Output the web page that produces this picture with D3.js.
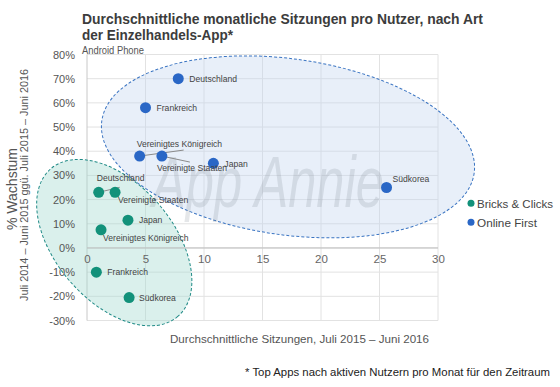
<!DOCTYPE html>
<html><head><meta charset="utf-8">
<script src="https://cdn.jsdelivr.net/npm/d3@7"></script>
<style>
html,body{margin:0;padding:0;background:#fff;}
svg{display:block;font-family:"Liberation Sans",Arial,sans-serif;}
</style></head>
<body><svg id="c" width="560" height="387"></svg>
<script>
// ---- data ----
const seriesNames = ["Bricks & Clicks", "Online First"];
const onlineCountries = ["Deutschland","Frankreich","Vereinigtes Königreich","Vereinigte Staaten","Japan","Südkorea"];
const onlineSessions  = [7.8, 5.0, 4.5, 6.4, 10.8, 25.6];
const onlineGrowth    = [0.70, 0.58, 0.38, 0.38, 0.35, 0.25];
const bricksCountries = ["Deutschland","Vereinigte Staaten","Japan","Vereinigtes Königreich","Frankreich","Südkorea"];
const bricksSessions  = [1.0, 2.4, 3.5, 1.2, 0.8, 3.6];
const bricksGrowth    = [0.23, 0.23, 0.115, 0.075, -0.10, -0.205];
const xTicks = [0,5,10,15,20,25,30];
const yTicks = [-0.3,-0.2,-0.1,0,0.1,0.2,0.3,0.4,0.5,0.6,0.7,0.8];

// ---- layout ----
const svg = d3.select("#c");
const x = d3.scaleLinear().domain([0,30]).range([87,438]);
const y = d3.scaleLinear().domain([-0.3,0.8]).range([320.5,54.5]);
const colors = {"Bricks & Clicks":"#12917a","Online First":"#2a67c6"};
const font = '"Liberation Sans",Arial,sans-serif';

// grid
const g = svg.append("g");
g.selectAll(".hg").data(yTicks).join("line")
  .attr("x1",x(0)).attr("x2",x(30)).attr("y1",d=>y(d)).attr("y2",d=>y(d))
  .attr("stroke","#e2e2e2").attr("stroke-width",1);
g.selectAll(".vg").data(xTicks).join("line")
  .attr("x1",d=>x(d)).attr("x2",d=>x(d)).attr("y1",y(0.8)).attr("y2",y(-0.3))
  .attr("stroke",d=>d===0?"#c8c8c8":"#e2e2e2").attr("stroke-width",1);

// ellipses (annotation)
const ell = svg.append("g");
function ellipse(cxv, cyv, rx, ry, rot, fill, fillOp, stroke){
  ell.append("ellipse")
    .attr("cx",0).attr("cy",0).attr("rx",rx).attr("ry",ry)
    .attr("transform",`translate(${x(cxv)},${y(cyv)}) rotate(${rot})`)
    .attr("fill",fill).attr("fill-opacity",fillOp)
    .attr("stroke",stroke).attr("stroke-width",1).attr("stroke-dasharray","3,2");
}
ellipse(17.18, 0.418, 188, 88, 8, "#c2d5f0", 0.38, "#3a74c2");
ellipse(2.33, 0.022, 97.4, 58.8, 49.3, "#a6dcd2", 0.42, "#1f8a86");

// watermark
svg.append("text").attr("x",268).attr("y",207).attr("text-anchor","middle")
  .attr("font-family",font).attr("font-style","italic").attr("font-size",72)
  .attr("fill","#7d8590").attr("fill-opacity",0.2)
  .attr("textLength",232).attr("lengthAdjust","spacingAndGlyphs")
  .text("App Annie");

// zero line
svg.append("line").attr("x1",x(0)).attr("x2",x(30)).attr("y1",y(0)).attr("y2",y(0))
  .attr("stroke","#bdbdbd").attr("stroke-width",1);

// axes labels via d3 axes
const yAxis = d3.axisLeft(y).tickValues(yTicks).tickSize(0).tickPadding(0)
  .tickFormat(d=>Math.round(d*100)+"%");
const ya = svg.append("g").attr("transform","translate(75,0)").call(yAxis);
ya.select(".domain").remove();
ya.selectAll("text").attr("font-family",font).attr("font-size",11).attr("fill","#555");

const xAxis = d3.axisBottom(x).tickValues(xTicks).tickSize(0).tickPadding(0).tickFormat(d3.format("d"));
const xa = svg.append("g").attr("transform",`translate(0,${y(0)+7})`).call(xAxis);
xa.select(".domain").remove();
xa.selectAll("text").attr("font-family",font).attr("font-size",11.5).attr("fill","#666");

// series
const online = onlineCountries.map((c,i)=>({c, s:onlineSessions[i], g:onlineGrowth[i]}));
const bricks = bricksCountries.map((c,i)=>({c, s:bricksSessions[i], g:bricksGrowth[i]}));

// label offsets (layout)
const onlineLab = {"Deutschland":[11,3.5],"Frankreich":[11,3.5],"Vereinigtes Königreich":[-3,-9],
  "Vereinigte Staaten":[-5,14.5],"Japan":[11,3.5],"Südkorea":[6,-6]};
const bricksLab = {"Deutschland":[-2,-11],"Vereinigte Staaten":[3,11],"Japan":[11,3],
  "Vereinigtes Königreich":[2,11],"Frankreich":[11,2.5],"Südkorea":[10,3]};
const onlineLead = {"Vereinigtes Königreich":[44,-6],"Vereinigte Staaten":[28,6]};
const bricksLead = {"Deutschland":[21,-5]};

function drawSeries(data, color, lab, lead){
  const gg = svg.append("g");
  gg.selectAll("line").data(data.filter(d=>lead[d.c])).join("line")
    .attr("x1",d=>x(d.s)).attr("y1",d=>y(d.g))
    .attr("x2",d=>x(d.s)+lead[d.c][0]).attr("y2",d=>y(d.g)+lead[d.c][1])
    .attr("stroke","#8a8a8a").attr("stroke-width",1);
  gg.selectAll("circle").data(data).join("circle")
    .attr("cx",d=>x(d.s)).attr("cy",d=>y(d.g)).attr("r",5.5).attr("fill",color);
  return gg;
}
drawSeries(online, colors["Online First"], onlineLab, onlineLead);
drawSeries(bricks, colors["Bricks & Clicks"], bricksLab, bricksLead);
function drawLabels(data, lab){
  svg.append("g").selectAll("text").data(data).join("text")
    .attr("x",d=>x(d.s)+lab[d.c][0]).attr("y",d=>y(d.g)+lab[d.c][1])
    .attr("font-family",font).attr("font-size",8.6).attr("fill","#444")
    .text(d=>d.c);
}
drawLabels(online, onlineLab);
drawLabels(bricks, bricksLab);

// titles
function txt(t, xx, yy, size, opts={}){
  const e = svg.append("text").attr("x",xx).attr("y",yy).attr("font-family",font)
    .attr("font-size",size).attr("fill",opts.fill||"#444").text(t);
  if(opts.bold) e.attr("font-weight","bold");
  if(opts.len) e.attr("textLength",opts.len).attr("lengthAdjust","spacingAndGlyphs");
  if(opts.anchor) e.attr("text-anchor",opts.anchor);
  if(opts.rot) e.attr("transform",`rotate(-90,${xx},${yy})`);
  return e;
}
txt("Durchschnittliche monatliche Sitzungen pro Nutzer, nach Art",82,24,15,{bold:true,len:401,fill:"#3c3c3c"});
txt("der Einzelhandels-App*",82,39.5,15,{bold:true,len:151,fill:"#3c3c3c"});
txt("Android Phone",82,54,11.5,{len:62,fill:"#555"});
txt("Durchschnittliche Sitzungen, Juli 2015 – Juni 2016",299.5,343,11.5,{len:259,anchor:"middle",fill:"#555"});
txt("* Top Apps nach aktiven Nutzern pro Monat für den Zeitraum",245,376,11,{len:305,fill:"#222"});
txt("% Wachstum",16.5,189,14,{anchor:"middle",rot:true,len:82,fill:"#555"});
txt("Juli 2014 – Juni 2015 ggü. Juli 2015 – Juni 2016",27.5,185,10.5,{anchor:"middle",rot:true,len:232,fill:"#555"});

// legend
const leg = svg.append("g");
seriesNames.forEach((n,i)=>{
  leg.append("circle").attr("cx",471).attr("cy",203.3+i*19).attr("r",3.5).attr("fill",colors[n]);
  leg.append("text").attr("x",477).attr("y",207.5+i*19).attr("font-family",font)
    .attr("font-size",11.5).attr("fill","#444").text(n)
    .attr("textLength", i===0?76:60).attr("lengthAdjust","spacingAndGlyphs");
});
</script></body></html>
